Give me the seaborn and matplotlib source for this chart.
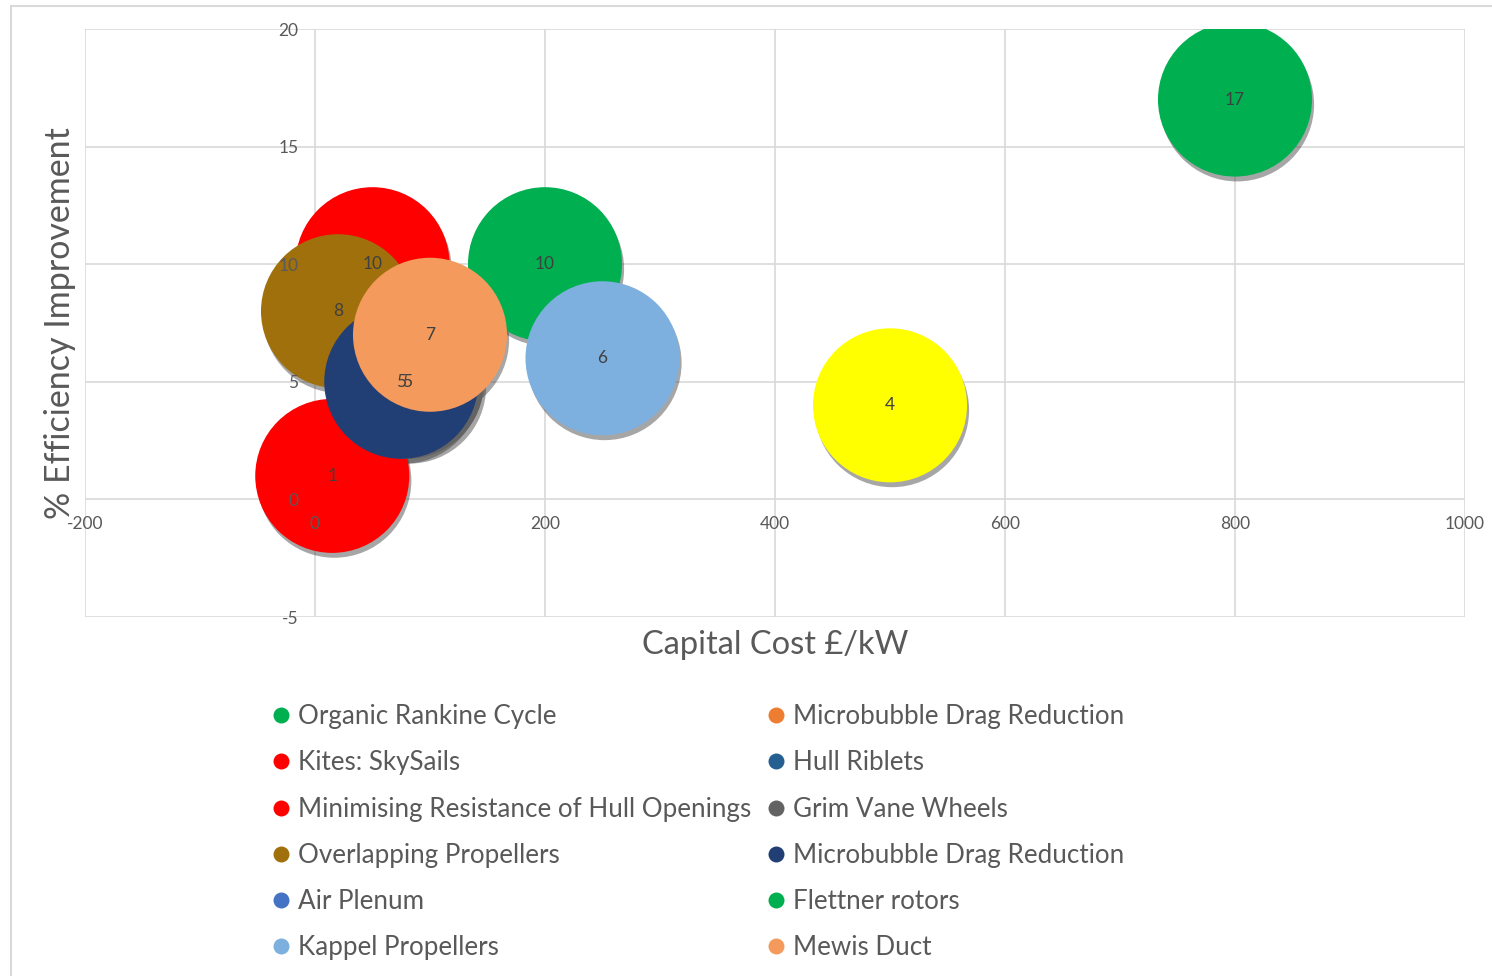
import numpy as np
import pandas as pd
import seaborn as sns
import matplotlib
matplotlib.use("Agg")
import matplotlib.pyplot as plt
import matplotlib.patheffects as pe
from matplotlib.lines import Line2D
from matplotlib.patches import Rectangle

# series, in drawing order (later ones sit on top)
technologies = ["Organic Rankine Cycle", "Kites: SkySails", "Minimising Resistance of Hull Openings",
                "Overlapping Propellers", "Air Plenum", "Kappel Propellers",
                "Microbubble Drag Reduction", "Hull Riblets", "Grim Vane Wheels",
                "Microbubble Drag Reduction", "Flettner rotors", "Mewis Duct", ""]
capital_cost = [200, 50, 15, 20, np.nan, 250, np.nan, np.nan, 80, 75, 800, 100, 500]
efficiency = [10, 10, 1, 8, np.nan, 6, np.nan, np.nan, 5, 5, 17, 7, 4]
colors = ["#00B050", "#FF0000", "#FF0000", "#A0700C", "#4472C4", "#7EB0DF",
          "#ED7D31", "#255E91", "#636363", "#223F75", "#00B050", "#F39A5C", "#FFFF00"]
in_legend = [True] * 12 + [False]

x_ticks = [-200, 0, 200, 400, 600, 800, 1000]
y_ticks = [-5, 0, 5, 10, 15, 20]

df = pd.DataFrame({"id": range(len(technologies)), "tech": technologies,
                   "cost": capital_cost, "eff": efficiency})
plot_df = df.dropna()
palette = {i: c for i, c in enumerate(colors)}

sns.set_style("white")
plt.rcParams["font.family"] = ["Lato", "DejaVu Sans"]
plt.rcParams["axes.unicode_minus"] = False
text_grey = "#595959"
grid_grey = "#D9D9D9"

fig = plt.figure(figsize=(14.92, 9.76), dpi=100)
ax = fig.add_axes([85 / 1492, 1 - 617 / 976, 1380 / 1492, 588 / 976])

# gridlines under the bubbles
for xv in x_ticks:
    ax.axvline(xv, color=grid_grey, lw=1.2, zorder=0)
for yv in y_ticks:
    ax.axhline(yv, color=grid_grey, lw=1.2, zorder=0)

sns.scatterplot(data=plot_df, x="cost", y="eff", hue="id", palette=palette,
                s=12300, linewidth=0, alpha=1, legend=False, ax=ax, zorder=1)
ax.collections[-1].set_path_effects([
    pe.SimplePatchShadow(offset=(1.5, -3.5), shadow_rgbFace="#3a3a3a", alpha=0.45),
    pe.Normal()])

for _, r in plot_df.iterrows():
    ax.text(r["cost"], r["eff"], f"{r['eff']:g}", ha="center", va="center",
            fontsize=12.5, color="#404040", zorder=3)

ax.set_xlim(-200, 1000)
ax.set_ylim(-5, 20)
ax.set_xticks(x_ticks)
ax.set_yticks(y_ticks)
ax.spines["left"].set_position(("data", 0))
ax.spines["bottom"].set_position(("data", 0))
for sp in ax.spines.values():
    sp.set_color("none")
ax.set_axisbelow(False)  # tick labels sit on top of the bubbles
ax.tick_params(length=0, labelsize=12.5, labelcolor=text_grey, pad=12)
ax.set_xlabel("")
ax.set_ylabel("")

fig.text(775 / 1492, 1 - 645 / 976, "Capital Cost £/kW", ha="center", va="center",
         fontsize=23.5, color=text_grey)
fig.text(60 / 1492, 1 - 323 / 976, "% Efficiency Improvement", ha="center", va="center",
         rotation=90, fontsize=24.5, color=text_grey)

handles = [Line2D([0], [0], marker="o", lw=0, markersize=11.5, markerfacecolor=c,
                  markeredgewidth=0, label=t)
           for t, c, show in zip(technologies, colors, in_legend) if show]
fig.legend(handles=handles, ncol=2, loc="upper left",
           bbox_to_anchor=(272 / 1492, 1 - 704 / 976), frameon=False,
           fontsize=18.7, labelcolor=text_grey, borderpad=0, borderaxespad=0,
           handlelength=0.7, handletextpad=0.3, labelspacing=0.82, columnspacing=0.6)

# chart area outline
fig.patches.append(Rectangle((11 / 1492, -0.01), 1.0, 1 - 6 / 976 + 0.01,
                             transform=fig.transFigure, fill=False,
                             edgecolor=grid_grey, lw=1.5))

plt.savefig("out.png", dpi=100)
